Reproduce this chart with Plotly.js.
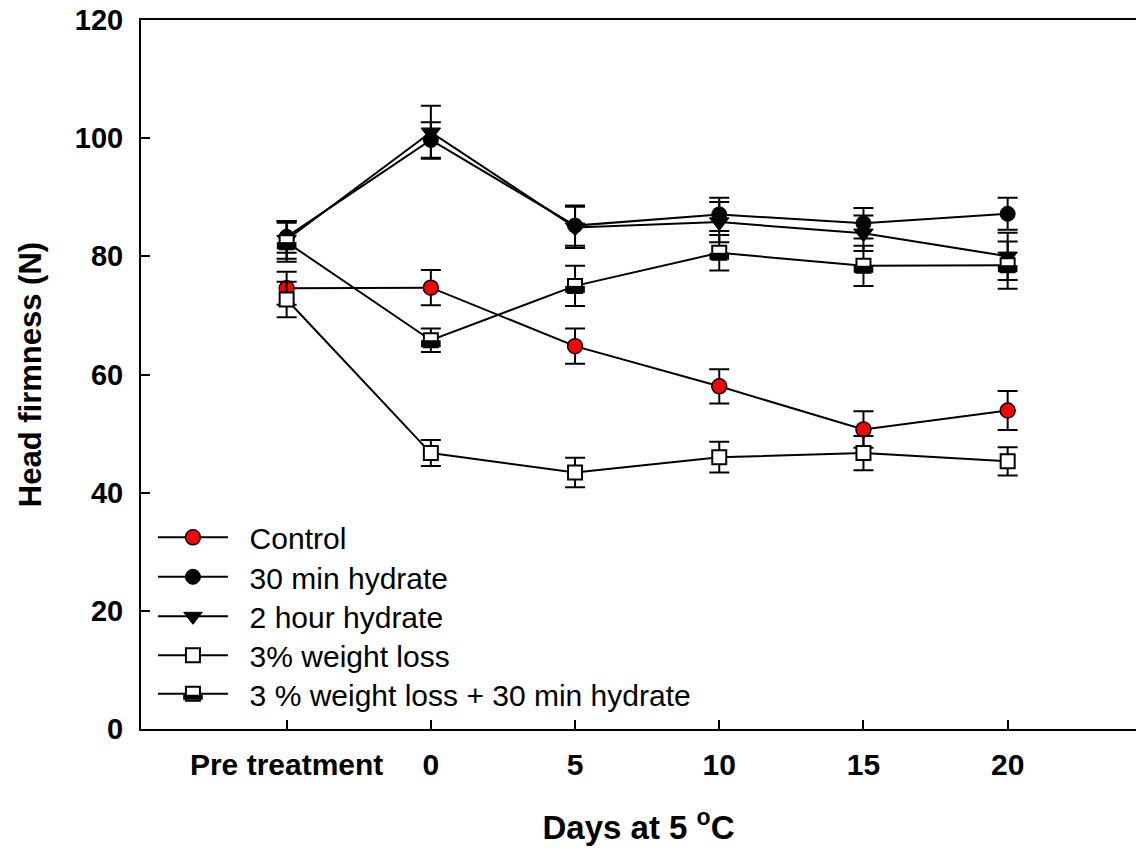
<!DOCTYPE html>
<html>
<head>
<meta charset="utf-8">
<script src="https://cdn.plot.ly/plotly-3.0.1.min.js"></script>
<style>html,body{margin:0;padding:0;background:#fff;overflow:hidden}#chart{width:1136px;height:849px}</style>
</head>
<body>
<div id="chart"></div>
<script>
const categories = ['Pre treatment', '0', '5', '10', '15', '20'];

const controlMean = [74.6, 74.7, 64.8, 58.0, 50.7, 53.9];
const controlErr  = [2.8, 3.0, 3.0, 2.9, 3.1, 3.3];

const hyd30Mean = [83.3, 99.7, 85.2, 87.1, 85.6, 87.2];
const hyd30Err  = [2.7, 3.0, 3.4, 2.8, 2.6, 2.7];

const hyd2hMean = [82.8, 101.0, 84.9, 85.8, 83.9, 80.0];
const hyd2hErr  = [3.2, 4.5, 3.5, 3.4, 3.0, 4.0];

const wl3Mean = [72.7, 46.7, 43.4, 46.0, 46.7, 45.3];
const wl3Err  = [3.0, 2.2, 2.5, 2.6, 2.9, 2.4];

const wl3h30Mean = [82.4, 65.8, 75.0, 80.6, 78.4, 78.5];
const wl3h30Err  = [3.3, 2.0, 3.4, 3.0, 3.4, 4.0];

const seriesNames = ['Control', '30 min hydrate', '2 hour hydrate', '3% weight loss', '3 % weight loss + 30 min hydrate'];

const FONT = 'Liberation Sans, Arial, Helvetica, sans-serif';
const PAD = '\u00A0\u00A0';

const legendIds = ['legend', 'legend2', 'legend3', 'legend4', 'legend5'];

function errBar(arr) {
  return {type: 'data', array: arr, visible: true, color: '#000', thickness: 2, width: 10};
}
function base(i, y, err, marker) {
  return {
    type: 'scatter', mode: 'lines+markers', x: categories, y: y, name: PAD + seriesNames[i],
    legend: legendIds[i],
    line: {color: '#000', width: 2},
    error_y: errBar(err),
    marker: marker
  };
}

const traces = [
  base(0, controlMean, controlErr, {symbol: 'circle', size: 15, color: '#ff0000', line: {color: '#000', width: 1.5}}),
  base(1, hyd30Mean, hyd30Err, {symbol: 'circle', size: 15, color: '#000', line: {color: '#000', width: 1}}),
  base(2, hyd2hMean, hyd2hErr, {symbol: 'triangle-down', size: 17, color: '#000', line: {color: '#000', width: 1}}),
  base(3, wl3Mean, wl3Err, {symbol: 'square', size: 14, color: '#fff', line: {color: '#000', width: 2}}),
  base(4, wl3h30Mean, wl3h30Err, {symbol: 'square', size: 14, color: '#fff', line: {color: '#000', width: 2}}),
  {
    type: 'scatter', mode: 'markers', x: categories, y: wl3h30Mean, name: '\u00A0',
    yaxis: 'y2', legend: 'legend6', hoverinfo: 'skip',
    marker: {symbol: 'line-ew', size: 14, color: '#000', line: {color: '#000', width: 7}}
  }
];

const plotH = 849 - 20 - 120;
const plotW = 1136 - 141;
const dy = 3.5 * 120 / plotH;

const LEG_FONT = 30;
const legX = 0.012;
const itemOffset = 26.7;           // px from legend top to item centre
const itemCentres = [538, 577.5, 617, 656, 694.5];  // legend row centres (px from top)

function legendAt(centrePx) {
  return {
    x: legX, y: (729 - (centrePx - itemOffset)) / plotH, xanchor: 'left', yanchor: 'top',
    bgcolor: 'rgba(0,0,0,0)', borderwidth: 0,
    font: {family: FONT, size: LEG_FONT, color: '#000'},
    itemwidth: 70
  };
}

const layout = {
  width: 1136, height: 849,
  margin: {l: 141, r: 0, t: 20, b: 120},
  paper_bgcolor: '#fff', plot_bgcolor: '#fff',
  font: {family: FONT, color: '#000'},
  showlegend: true,
  xaxis: {
    type: 'category',
    range: [-1.01, 5.89],
    showline: true, linecolor: '#000', linewidth: 2, mirror: true,
    ticks: 'inside', ticklen: 9, tickwidth: 2, tickcolor: '#000',
    showgrid: false, zeroline: false,
    tickfont: {family: FONT, size: 30, weight: 'bold', color: '#000'},
    ticklabelstandoff: 8,
    title: {text: 'Days at 5 <sup>o</sup>C', font: {family: FONT, size: 33, weight: 'bold', color: '#000'}, standoff: 36}
  },
  yaxis: {
    range: [0, 120],
    tickvals: [0, 20, 40, 60, 80, 100, 120],
    showline: true, linecolor: '#000', linewidth: 2, mirror: false,
    ticks: 'inside', ticklen: 9, tickwidth: 2, tickcolor: '#000',
    showgrid: false, zeroline: false,
    tickfont: {family: FONT, size: 29, weight: 'bold', color: '#000'},
    ticklabelstandoff: 10,
    title: {text: 'Head firmness (N)', font: {family: FONT, size: 31, weight: 'bold', color: '#000'}, standoff: 24}
  },
  yaxis2: {
    overlaying: 'y', range: [dy, 120 + dy], visible: false, fixedrange: true
  },
  legend: legendAt(itemCentres[0]),
  legend2: legendAt(itemCentres[1]),
  legend3: legendAt(itemCentres[2]),
  legend4: legendAt(itemCentres[3]),
  legend5: legendAt(itemCentres[4]),
  legend6: legendAt(itemCentres[4] + 3.5)
};

Plotly.newPlot('chart', traces, layout, {displayModeBar: false, staticPlot: true});
</script>
</body>
</html>
